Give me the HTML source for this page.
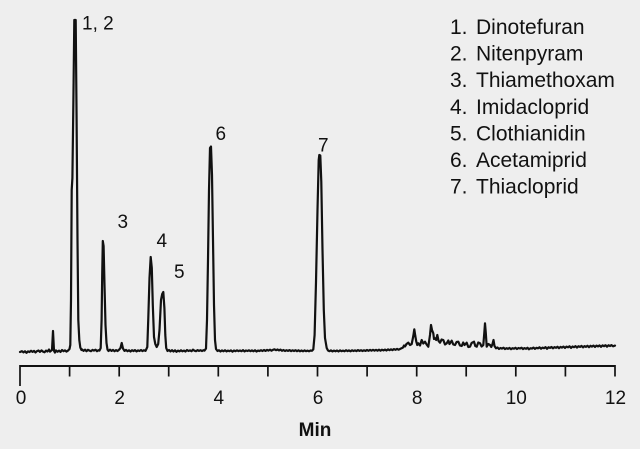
<!DOCTYPE html>
<html><head><meta charset="utf-8"><style>
html,body{margin:0;padding:0;background:#eeeeee;}
svg{display:block;}
text{font-family:"Liberation Sans",Arial,sans-serif;fill:#111;}
</style></head><body>
<svg width="640" height="449" viewBox="0 0 640 449" xmlns="http://www.w3.org/2000/svg">
<rect x="0" y="0" width="640" height="449" fill="#eeeeee"/>
<!-- trace -->
<polyline fill="none" stroke="#111" stroke-width="2.2" stroke-linejoin="round" stroke-linecap="round" points="
20,352 22,351.2 23.5,352.4 25,351.3 26.5,352.8 28,351.4 29.5,352 31,350.8 32.5,351.9 34,350.9 35.5,352.5 37,351.1 38.5,350.5 40,351.9 41.5,350.4 43,351.6 44.5,352.3 46,350.6 47.5,351.5 49,349.5 50,351.6 51,350.8 52,350 53,331 54,350.8 55,352.6 56,350.4 57.5,351.7 59,350.6 60.5,351.9 62,350 63.5,351.2 65,350.4 66.5,351.6 68,350.6
69.5,349 70.3,345 71,300 71.7,190 72.4,178 73.4,100 74.3,20 75.7,20 76.6,120 77.5,240 78.3,320 79.3,340 80.3,347.5 81.5,350
82,349.4 83.5,350.9 85,349.7 86.5,351.2 88,349.8 89.5,350.6 91,351.2 92.5,349.9 94,350.6 95.5,349.7 97,351.2 98.5,350.2 99.5,350.6
100.7,348 101.6,320 102.2,275 102.8,241 103.6,246 104.5,285 105.5,325 106.5,343 107.5,349.6
108.5,351 110,349.7 111.5,350.9 113,349.9 114.5,351.2 116,350.1 117.5,351 119,349.8 120.5,348 121.7,343 123,348.5 124.5,350.9 126,349.9 127.5,351.2 129,350.3 130.5,351.5 132,350.2 133.5,351.1 135,350.1 136.5,351.4 138,350.4 139.5,351 141,350 142.5,351.1 144,350.2 145.5,350.9
147.3,347 148.3,318 149.5,278 150.7,257 151.8,268 152.8,305 154,337 155.3,344 156.7,347 158.2,344 159.5,330 161,300 162.2,294 163.3,292 164.4,308 165.3,335 166.2,348 167.5,351
169,350 170.5,351.4 172,350.2 173.5,351.5 175,350.3 176.5,351.8 178,350.6 179.5,351.4 181,350.3 182.5,351.3 184,350.6 185.5,351.5 187,350 188.5,351 190,350.4 191.5,351.2 193,349.6 194.5,350.7 196,351.2 197.5,350.1 199,350.9 200.5,350.2 202,351 203.5,350.2 204.5,350.6
206,348.5 207,320 208,260 209,190 210,148 211,146.5 212,175 213,240 214,305 215,340 216,349 217.5,351
219,350.3 220.5,351.5 222,350.4 223.5,351.3 225,350.2 226.5,351.4 228,350.6 229.5,351.2 231,350.4 232.5,351.7 234,350.5 235.5,351.2 237,350.3 238.5,351.1 240,350.5 241.5,351.2 243,350.1 244.5,351.4 246,350.5 247.5,351 249,350.3 250.5,351.2 252,350.4 253.5,351.3 255,350.2 256.5,351.5 258,350.6 259.5,351 261,350.2 262.5,351 264,350 265.5,350.9 267,349.9 268.5,350.6 270,349.7 271.5,350.7 273,349.8 274.5,349.3 276,350.2 277.5,349.5 279,350.4 280.5,349.6 282,350.8 283.5,350 285,351 286.5,350.2 288,350.9 289.5,350.1 291,351.1 292.5,350.3 294,351 295.5,350.2 297,351.2 298.5,350.3 300,351.3 301.5,350.5 303,351.3 304.5,350.4 306,351.2 307.5,350.6 309,351.3 310.5,350.5 312,350.8
313.3,349.4 314.6,335 316,282 317.5,210 318.7,160 319.3,155 320.3,155.5 321.3,182 322.5,250 323.8,310 325,338 326.7,348 328,350.5
329.5,351.2 331,350.4 332.5,351.4 334,350.6 335.5,351.3 337,350.5 338.5,351.5 340,350.4 341.5,351.2 343,350.6 344.5,351.3 346,350.2 347.5,351.1 349,350.4 350.5,351.3 352,350.3 353.5,351 355,350.4 356.5,351.1 358,350.1 359.5,350.9 361,350.2 362.5,351 364,350.3 365.5,350.9 367,350 368.5,350.8 370,349.9 371.5,350.7 373,349.8 374.5,350.6 376,349.9 377.5,350.7 379,349.7 380.5,350.7 382,349.7 383.5,350.4 385,349.6 386.5,350.5 388,349.4 389.5,350.2 391,349.3 392.5,350.1 394,349.1 395.5,349.8 397,348.9 398.5,349.7 400,349
401.5,348.3 403,347.5 404,345.5 405,346.5 406.5,344 408.3,342.7 410,345 411.7,344 413.3,336 414.3,329.3 415.3,336 416.3,341.7 417.3,345 418.3,343.3 420,345.5 421.7,340 423.3,343.5 425,341.7 426.6,344.5 428.3,346.7 430,335 431,325 432,330 433.3,333.3 434,339 435,338.3 436.2,340 437.3,335 438.6,341 440,342.7 441.6,339.5 443.3,340 445,344.5 446.7,343.3 448.3,340.5 449.5,344 451.7,340.7 453.3,344.5 455,345 456.6,342 458.3,341.7 460,345.5 461.7,346 463.2,342.5 464.5,345 466.7,342.7 468.3,347 470,346.7 471.6,343 474,341.7 475.3,346 476.7,346.7 478.3,342.5 480,343.3 481.6,346.5 483.3,345 484.3,333 485,323.3 485.8,333 486.7,346.7 488.3,344 490,345 491.3,347 492.5,344 493.5,340 494.5,346 496,348.3
497.5,347.5 499,349 500.5,348 502,348.6 503.5,347.7 505,349.1 506.5,348.2 508,348.8 509.5,347.9 511,349.2 512.5,348.2 514,348.7 515.5,347.8 517,349 518.5,348 520,348.5 521.5,347.7 523,349.1 524.5,348.1 526,348.8 527.5,347.8 529,349.3 530.5,348.2 532,348.6 533.5,347.6 535,348.9 536.5,347.8 538,348.3 539.5,347.3 541,348.7 542.5,347.6 544,348.2 545.5,347.1 547,348.8 548.5,347.3 550,347.9 551.5,347 553,348.3 554.5,347.1 556,347.8 557.5,346.8 559,348.2 560.5,346.9 562,347.6 563.5,346.6 565,348 566.5,346.6 568,347.3 569.5,346.3 571,347.9 572.5,346.5 574,347.2 575.5,346.1 577,347.6 578.5,346.2 580,346.9 581.5,345.9 583,347.4 584.5,346.1 586,346.9 587.5,345.8 589,347.2 590.5,345.8 592,346.6 593.5,345.6 595,347 596.5,345.6 598,346.4 599.5,345.4 601,346.8 602.5,345.4 604,346.2 605.5,345.2 607,346.7 608.5,345.3 610,346 611.5,345.1 613,346.3 615,345.6"/>
<!-- axis -->
<line x1="20" y1="366" x2="615.5" y2="366" stroke="#111" stroke-width="2"/>
<g stroke="#111" stroke-width="1.7">
<line x1="20" y1="365" x2="20" y2="386"/>
<line x1="69.6" y1="366" x2="69.6" y2="376.5"/>
<line x1="119.2" y1="366" x2="119.2" y2="376.5"/>
<line x1="168.7" y1="366" x2="168.7" y2="376.5"/>
<line x1="218.3" y1="366" x2="218.3" y2="376.5"/>
<line x1="267.9" y1="366" x2="267.9" y2="376.5"/>
<line x1="317.5" y1="366" x2="317.5" y2="376.5"/>
<line x1="367.1" y1="366" x2="367.1" y2="376.5"/>
<line x1="416.7" y1="366" x2="416.7" y2="376.5"/>
<line x1="466.2" y1="366" x2="466.2" y2="376.5"/>
<line x1="515.8" y1="366" x2="515.8" y2="376.5"/>
<line x1="565.4" y1="366" x2="565.4" y2="376.5"/>
<line x1="615" y1="365" x2="615" y2="376.5"/>
</g>
<g font-size="19" text-anchor="middle">
<text x="21" y="404">0</text>
<text x="119.7" y="404">2</text>
<text x="218.8" y="404">4</text>
<text x="318" y="404">6</text>
<text x="417.2" y="404">8</text>
<text x="516.3" y="404">10</text>
<text x="615.5" y="404">12</text>
</g>
<text x="315" y="436" font-size="19" font-weight="bold" text-anchor="middle">Min</text>
<!-- peak labels -->
<g font-size="19">
<text x="82" y="29.5">1, 2</text>
<text x="117.5" y="228">3</text>
<text x="156.5" y="247">4</text>
<text x="174" y="278">5</text>
<text x="215.5" y="140">6</text>
<text x="318" y="151.5">7</text>
</g>
<!-- legend -->
<g font-size="21">
<text x="450" y="34">1.</text><text x="476" y="34">Dinotefuran</text>
<text x="450" y="60.6">2.</text><text x="476" y="60.6">Nitenpyram</text>
<text x="450" y="87.2">3.</text><text x="476" y="87.2">Thiamethoxam</text>
<text x="450" y="113.8">4.</text><text x="476" y="113.8">Imidacloprid</text>
<text x="450" y="140.4">5.</text><text x="476" y="140.4">Clothianidin</text>
<text x="450" y="167">6.</text><text x="476" y="167">Acetamiprid</text>
<text x="450" y="193.6">7.</text><text x="476" y="193.6">Thiacloprid</text>
</g>
</svg>
</body></html>
